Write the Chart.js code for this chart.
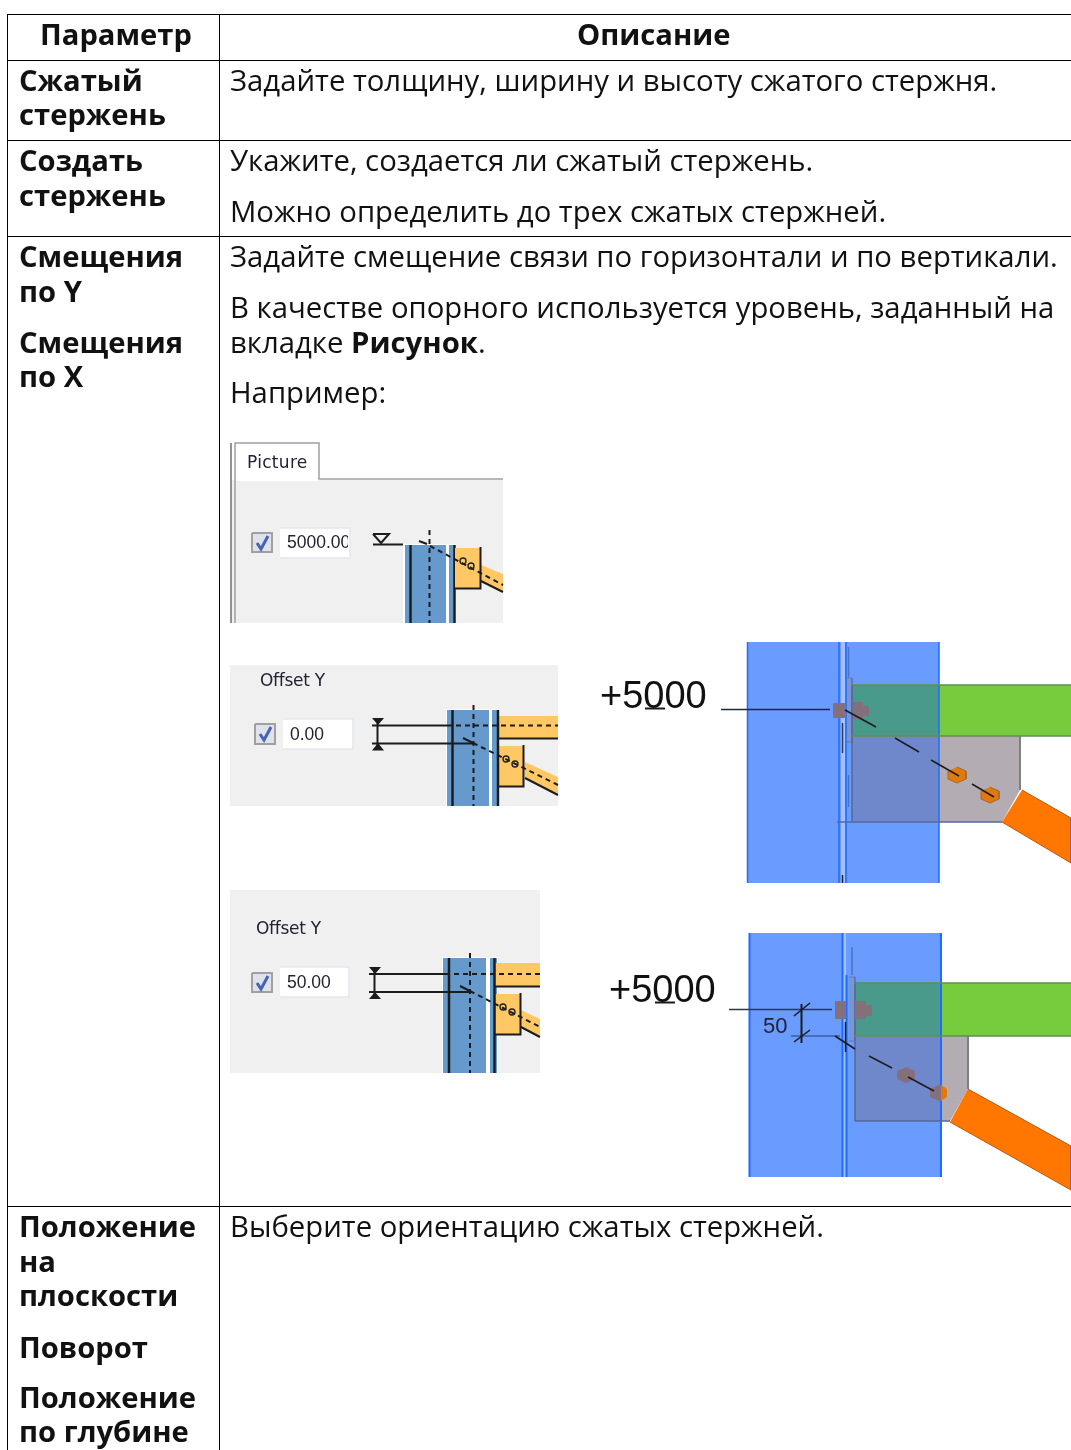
<!DOCTYPE html>
<html lang="ru">
<head>
<meta charset="utf-8">
<title>Параметры</title>
<script src="https://cdn.jsdelivr.net/npm/chart.js@4"></script>
<style>
  html, body { margin: 0; padding: 0; background: #fff; }
  #page { position: relative; width: 1071px; height: 1450px; overflow: hidden; font-family: "Open Sans", sans-serif; color: #111; }
  #sheet { position: absolute; left: 0; top: 0; }
  .t, .b, .h, .u, .d, .n { position: absolute; white-space: nowrap; line-height: 34px; }
  .t { font-size: 29.3px; margin-top: -1px; }
  .b, .h { font-size: 29.2px; font-weight: 700; margin-top: -1px; }
  .u { font-family: "DejaVu Sans", sans-serif; font-size: 17px; line-height: 20px; color: #223; filter: blur(.3px); }
  .d { font-family: "Liberation Sans", sans-serif; font-size: 17.5px; line-height: 20px; color: #223; filter: blur(.3px); overflow: hidden; }
  .n { font-family: "Liberation Sans", sans-serif; font-size: 38px; line-height: 40px; color: #111; }
</style>
</head>
<body>
<div id="page">
  <canvas id="sheet" width="1071" height="1450"></canvas>

  <div class="h" style="left:40px;top:18px">Параметр</div>
  <div class="h" style="left:577px;top:18px">Описание</div>

  <div class="b" style="left:19px;top:64px">Сжатый</div>
  <div class="b" style="left:19px;top:98px">стержень</div>
  <div class="t" style="left:230px;top:64px">Задайте толщину, ширину и высоту сжатого стержня.</div>

  <div class="b" style="left:19px;top:144px">Создать</div>
  <div class="b" style="left:19px;top:179px">стержень</div>
  <div class="t" style="left:230px;top:144px">Укажите, создается ли сжатый стержень.</div>
  <div class="t" style="left:230px;top:195px">Можно определить до трех сжатых стержней.</div>

  <div class="b" style="left:19px;top:240px">Смещения</div>
  <div class="b" style="left:19px;top:275px">по Y</div>
  <div class="b" style="left:19px;top:326px">Смещения</div>
  <div class="b" style="left:19px;top:360px">по X</div>
  <div class="t" style="left:230px;top:240px">Задайте смещение связи по горизонтали и по вертикали.</div>
  <div class="t" style="left:230px;top:291px">В качестве опорного используется уровень, заданный на</div>
  <div class="t" style="left:230px;top:326px">вкладке <b>Рисунок</b>.</div>
  <div class="t" style="left:230px;top:376px">Например:</div>

  <div class="u" style="left:247px;top:452px;letter-spacing:.3px">Picture</div>
  <div class="d" style="left:287px;top:532px;width:61px">5000.00</div>
  <div class="u" style="left:260px;top:670px;letter-spacing:-.3px">Offset Y</div>
  <div class="d" style="left:290px;top:724px">0.00</div>
  <div class="u" style="left:256px;top:918px;letter-spacing:-.3px">Offset Y</div>
  <div class="d" style="left:287px;top:972px">50.00</div>

  <div class="n" style="left:600px;top:675px">+5000</div>
  <div class="n" style="left:609px;top:969px">+5000</div>
  <div class="n" style="left:763px;top:1006px;font-size:22px;color:#223">50</div>

  <div class="b" style="left:19px;top:1210px">Положение</div>
  <div class="b" style="left:19px;top:1245px">на</div>
  <div class="b" style="left:19px;top:1279px">плоскости</div>
  <div class="b" style="left:19px;top:1331px">Поворот</div>
  <div class="b" style="left:19px;top:1381px">Положение</div>
  <div class="b" style="left:19px;top:1415px">по глубине</div>
  <div class="t" style="left:230px;top:1210px">Выберите ориентацию сжатых стержней.</div>
</div>

<script>
// table rules
const tableVerticals = [7.5, 219.5];
const tableHorizontals = [14.5, 60.5, 140.5, 236.5, 1206.5];

// first dialog ("Picture" tab)
const tabPanel = [[231, 480], [503, 480], [503, 623], [231, 623]];
const tabFace = [[235, 443], [319, 443], [319, 481], [235, 481]];
const tabOutline = [[235, 623], [235, 443], [319, 443], [319, 479], [503, 479]];
const tabLeftEdge = [[231, 443], [231, 623]];
const box1 = [[252, 533], [272, 533], [272, 552], [252, 552], [252, 533]];
const tick1 = [[257, 543], [261, 549], [268, 536]];
const field1 = [[280, 528], [350, 528], [350, 558], [280, 558]];
const levelMark = [[373, 534], [389, 534], [381, 543], [373, 534]];
const levelLine = [[373, 544.5], [403, 544.5]];
const gap1 = [[403, 544], [456, 544], [456, 623], [403, 623]];
const column1 = [[405, 545], [446, 545], [446, 623], [405, 623]];
const band1 = [[449, 545], [455, 545], [455, 623], [449, 623]];
const web1a = [[410.5, 545], [410.5, 623]];
const web1b = [[454.5, 545], [454.5, 623]];
const centre1 = [[429.5, 530], [429.5, 623]];
const gusset1 = [[455, 548], [480, 548], [480, 588], [455, 588]];
const gussetEdge1 = [[480.5, 547], [480.5, 588.5], [454, 588.5]];
const brace1 = [[481, 565], [503, 574], [503, 592], [481, 581]];
const braceEdge1 = [[481, 581], [503, 592]];
const axis1a = [[419, 541], [427, 544]];
const axis1b = [[430, 546], [503, 585]];
const holes1 = [[463, 561], [471, 566]];

// second dialog (Offset Y 0.00)
const panel2 = [[230, 665], [558, 665], [558, 806], [230, 806]];
const box2 = [[255, 724], [275, 724], [275, 744], [255, 744], [255, 724]];
const tick2 = [[260, 734], [264, 740], [271, 727]];
const field2 = [[283, 719], [353, 719], [353, 749], [283, 749]];
const gap2 = [[446, 709], [500, 709], [500, 806], [446, 806]];
const column2 = [[447, 710], [489, 710], [489, 806], [447, 806]];
const band2 = [[492, 710], [499, 710], [499, 806], [492, 806]];
const web2a = [[452.5, 710], [452.5, 806]];
const web2b = [[498, 710], [498, 806]];
const centre2 = [[473.5, 705], [473.5, 806]];
const flange2 = [[499, 716], [558, 716], [558, 738], [499, 738]];
const flangeEdge2 = [[499, 738.5], [558, 738.5]];
const flangeAxis2 = [[447, 725.5], [558, 725.5]];
const dimTop2 = [[372, 725.5], [447, 725.5]];
const dimBottom2 = [[372, 743.5], [473, 743.5]];
const dimStem2 = [[377.5, 720], [377.5, 750]];
const arrowTop2 = [[372, 718], [384, 718], [378, 725]];
const arrowBottom2 = [[372, 750.5], [384, 750.5], [378, 743]];
const gusset2 = [[499, 746], [523, 746], [523, 786], [499, 786]];
const gussetEdge2 = [[523.5, 745], [523.5, 786.5], [498, 786.5]];
const brace2 = [[525, 762], [558, 777], [558, 794], [525, 778]];
const braceEdge2 = [[525, 778], [558, 795]];
const axis2a = [[463, 738], [473, 743]];
const axis2b = [[473, 743], [558, 785]];
const holes2 = [[506, 759], [515, 764]];

// third dialog (Offset Y 50.00)
const panel3 = [[230, 890], [540, 890], [540, 1073], [230, 1073]];
const box3 = [[252, 973], [272, 973], [272, 992], [252, 992], [252, 973]];
const tick3 = [[257, 983], [261, 989], [268, 976]];
const field3 = [[280, 967], [349, 967], [349, 997], [280, 997]];
const gap3 = [[442, 957], [498, 957], [498, 1073], [442, 1073]];
const column3 = [[443, 958], [486, 958], [486, 1073], [443, 1073]];
const band3 = [[490, 958], [497, 958], [497, 1073], [490, 1073]];
const web3a = [[449, 958], [449, 1073]];
const web3b = [[494.5, 958], [494.5, 1073]];
const centre3 = [[470, 953], [470, 1073]];
const flange3 = [[495, 963], [540, 963], [540, 986], [495, 986]];
const flangeEdge3 = [[495, 986.5], [540, 986.5]];
const flangeAxis3 = [[445, 974], [540, 974]];
const dimTop3 = [[369, 974], [445, 974]];
const dimBottom3 = [[369, 992], [470, 992]];
const dimStem3 = [[374.5, 967], [374.5, 998]];
const arrowTop3 = [[369, 967], [381, 967], [375, 974]];
const arrowBottom3 = [[369, 999], [381, 999], [375, 992]];
const gusset3 = [[495, 994], [520, 994], [520, 1034], [495, 1034]];
const gussetEdge3 = [[520.5, 993], [520.5, 1034.5], [494, 1034.5]];
const brace3 = [[521, 1010], [540, 1019], [540, 1036], [521, 1027]];
const braceEdge3 = [[521, 1027], [540, 1037]];
const axis3a = [[460, 986], [470, 991]];
const axis3b = [[470, 991], [540, 1027]];
const holes3 = [[503, 1007], [512, 1012]];

// upper model view
const slab1 = [[747, 642], [939, 642], [939, 883], [747, 883]];
const strip1 = [[841, 642], [845, 642], [845, 883], [841, 883]];
const greenBar1 = [[939, 685], [1071, 685], [1071, 736], [939, 736]];
const tealBar1 = [[852, 685], [939, 685], [939, 736], [852, 736]];
const plateGrey1 = [[939, 736], [1020, 736], [1020, 790], [1002, 822], [939, 822]];
const plateBlue1 = [[852, 736], [939, 736], [939, 822], [852, 822]];
const capPlate1 = [[846, 678], [852, 678], [852, 742], [846, 742]];
const orange1 = [[1022, 790], [1071, 818], [1071, 863], [1002, 822]];
const slabEdges1 = [[747.5, 642], [747.5, 883]];
const slabEdges2 = [[939, 642], [939, 883]];
const slabEdges3 = [[839, 642], [839, 883]];
const slabEdges4 = [[846, 642], [846, 883]];
const plateOutline1 = [[1020, 736], [1020, 790]];
const plateBase1 = [[837, 822], [1002, 822]];
const plateSide1 = [[852, 685], [852, 822]];
const greenTop1 = [[852, 685], [1071, 685]];
const greenBottom1 = [[852, 736], [1071, 736]];
const boltA1 = [[833, 703], [846, 703], [846, 718], [833, 718]];
const boltB1 = [[853, 702], [863, 702], [863, 719], [853, 719]];
const boltC1 = [[863, 706], [869, 706], [869, 716], [863, 716]];
const leader1 = [[721, 709.5], [830, 709.5]];
const mark1 = [[645, 708.5], [665, 708.5]];
const hex1a = [[957, 767], [966, 771], [966, 779], [957, 783], [948, 779], [948, 771]];
const hex1b = [[990, 787], [999, 791], [999, 799], [990, 803], [981, 799], [981, 791]];
const dash1a = [[845, 710], [876, 727]];
const dash1b = [[895, 738], [919, 752]];
const dash1c = [[931, 760], [959, 776]];
const dash1d = [[972, 784], [994, 797]];
const inner1a = [[842.5, 723], [842.5, 753]];
const inner1b = [[842.5, 875], [842.5, 883]];
const inner1c = [[848.5, 647], [848.5, 677]];
const inner1d = [[848.5, 775], [848.5, 807]];

// lower model view
const slab2 = [[749, 933], [941, 933], [941, 1177], [749, 1177]];
const strip2 = [[843, 933], [846, 933], [846, 1177], [843, 1177]];
const greenBar2 = [[941, 983], [1071, 983], [1071, 1036], [941, 1036]];
const tealBar2 = [[855, 983], [941, 983], [941, 1036], [855, 1036]];
const plateGrey2 = [[941, 1036], [968, 1036], [968, 1089], [950, 1121], [941, 1121]];
const plateBlue2 = [[855, 1036], [941, 1036], [941, 1121], [855, 1121]];
const capPlate2 = [[849, 977], [855, 977], [855, 1041], [849, 1041]];
const orange2 = [[968, 1089], [1071, 1146], [1071, 1190], [950, 1122]];
const slabEdges5 = [[749.5, 933], [749.5, 1177]];
const slabEdges6 = [[941, 933], [941, 1177]];
const slabEdges7 = [[842.5, 933], [842.5, 1177]];
const slabEdges8 = [[846.5, 975], [846.5, 1177]];
const plateOutline2 = [[968, 1036], [968, 1089]];
const plateBase2 = [[855, 1121], [950, 1121]];
const plateSide2 = [[855, 983], [855, 1121]];
const greenTop2 = [[855, 983], [1071, 983]];
const greenBottom2 = [[855, 1036], [1071, 1036]];
const boltA2 = [[835, 1001], [846, 1001], [846, 1019], [835, 1019]];
const boltB2 = [[855, 1001], [866, 1001], [866, 1019], [855, 1019]];
const boltC2 = [[866, 1005], [872, 1005], [872, 1016], [866, 1016]];
const leader2 = [[729, 1009.5], [832, 1009.5]];
const leader2b = [[791, 1036], [840, 1036]];
const mark2 = [[655, 1002.5], [675, 1002.5]];
const dimStem4 = [[801.5, 1004], [801.5, 1043]];
const dimTick4a = [[794, 1016], [810, 1003]];
const dimTick4b = [[794, 1042], [810, 1030]];
const hex2a = [[906, 1067], [915, 1071], [915, 1079], [906, 1083], [897, 1079], [897, 1071]];
const hex2b = [[939, 1085], [941, 1085], [941, 1101], [939, 1101], [930, 1097], [930, 1089]];
const hex2c = [[941, 1085], [947, 1089], [947, 1097], [941, 1101]];
const dash2a = [[835, 1036], [855, 1049]];
const dash2b = [[869, 1056], [892, 1068]];
const dash2c = [[908, 1077], [934, 1091]];
const inner2a = [[845.5, 1022], [845.5, 1052]];
const inner2b = [[852, 947], [852, 975]];

const datasets = [];

function shape(points, fill, stroke, width, dash) {
  datasets.push({
    data: points.map(([x, y]) => ({ x, y })),
    showLine: true,
    fill: fill ? 'shape' : false,
    backgroundColor: fill || 'transparent',
    borderColor: stroke || 'transparent',
    borderWidth: stroke ? (width || 1) : 0,
    borderDash: dash || [],
    pointRadius: 0,
    tension: 0
  });
}

function dots(points) {
  datasets.push({
    data: points.map(([x, y]) => ({ x, y })),
    showLine: false,
    pointRadius: 3,
    pointBorderWidth: 1.4,
    pointBorderColor: '#222',
    pointBackgroundColor: 'transparent'
  });
}

const panelGrey = '#f0f0f0', steel = '#6699cc', amber = '#ffc864', ink = '#1c1c1c';
const slabBlue = '#6a9bff', edgeBlue = '#1f6bff', teal = '#4a9a8c', periwinkle = '#6f88cc';
const grass = '#76cc3c', plate = '#b3acb3', orange = '#ff7700', boltBrown = '#83707a';
const fieldEdge = '#e4e6ee', DASH = [5, 4];

tableVerticals.forEach(x => shape([[x, 14], [x, 1450]], null, '#000', 1));
tableHorizontals.forEach(y => shape([[7, y], [1071, y]], null, '#000', 1));

// "Picture" dialog
shape(tabPanel, panelGrey);
shape(tabFace, '#ffffff');
shape(tabOutline, null, '#a0a0a0', 1.5);
shape(tabLeftEdge, null, '#707070', 1.5);
shape(box1, '#dfe2ea', '#a0a0a0', 2);
shape(tick1, null, '#4664b4', 3);
shape(field1, '#ffffff', fieldEdge, 1.5);
shape(levelMark, panelGrey, ink, 2);
shape(levelLine, null, ink, 2);
shape(gap1, '#ffffff');
shape(column1, steel);
shape(band1, steel);
shape(web1a, null, ink, 2.5);
shape(web1b, null, ink, 2.5);
shape(gusset1, amber);
shape(brace1, amber);
shape(gussetEdge1, null, ink, 2);
shape(braceEdge1, null, ink, 2);
shape(centre1, null, ink, 2, DASH);
shape(axis1a, null, ink, 2);
shape(axis1b, null, ink, 2, DASH);
dots(holes1);

// Offset Y 0.00
shape(panel2, panelGrey);
shape(box2, '#dfe2ea', '#a0a0a0', 2);
shape(tick2, null, '#4664b4', 3);
shape(field2, '#ffffff', fieldEdge, 1.5);
shape(gap2, '#ffffff');
shape(column2, steel);
shape(band2, steel);
shape(flange2, amber);
shape(gusset2, amber);
shape(brace2, amber);
shape(web2a, null, ink, 2.5);
shape(web2b, null, ink, 2.5);
shape(flangeEdge2, null, ink, 2);
shape(gussetEdge2, null, ink, 2);
shape(braceEdge2, null, ink, 2);
shape(flangeAxis2, null, ink, 2, DASH);
shape(centre2, null, ink, 2, DASH);
shape(dimTop2, null, ink, 2);
shape(dimBottom2, null, ink, 2);
shape(dimStem2, null, ink, 2);
shape(arrowTop2, ink);
shape(arrowBottom2, ink);
shape(axis2a, null, ink, 2);
shape(axis2b, null, ink, 2, DASH);
dots(holes2);

// Offset Y 50.00
shape(panel3, panelGrey);
shape(box3, '#dfe2ea', '#a0a0a0', 2);
shape(tick3, null, '#4664b4', 3);
shape(field3, '#ffffff', fieldEdge, 1.5);
shape(gap3, '#ffffff');
shape(column3, steel);
shape(band3, steel);
shape(flange3, amber);
shape(gusset3, amber);
shape(brace3, amber);
shape(web3a, null, ink, 2.5);
shape(web3b, null, ink, 2.5);
shape(flangeEdge3, null, ink, 2);
shape(gussetEdge3, null, ink, 2);
shape(braceEdge3, null, ink, 2);
shape(flangeAxis3, null, ink, 2, DASH);
shape(centre3, null, ink, 2, DASH);
shape(dimTop3, null, ink, 2);
shape(dimBottom3, null, ink, 2);
shape(dimStem3, null, ink, 2);
shape(arrowTop3, ink);
shape(arrowBottom3, ink);
shape(axis3a, null, ink, 2);
shape(axis3b, null, ink, 2, DASH);
dots(holes3);

// upper model view
shape(slab1, slabBlue);
shape(strip1, '#a3c0ff');
shape(greenBar1, grass);
shape(tealBar1, teal);
shape(plateGrey1, plate);
shape(plateBlue1, periwinkle);
shape(capPlate1, '#7a95d0', '#5f78b0', 1);
shape(orange1, orange, '#b85a10', 1);
[slabEdges1, slabEdges2, slabEdges3, slabEdges4].forEach(e => shape(e, null, edgeBlue, 1.5));
shape(inner1a, null, '#333a55', 1.5);
shape(inner1b, null, '#222', 1.5);
shape(inner1c, null, '#4a72c0', 1.5);
shape(inner1d, null, '#4a72c0', 1.5);
shape(plateOutline1, null, '#808080', 2);
shape(plateBase1, null, '#55689a', 1.5);
shape(plateSide1, null, '#55689a', 1.5);
shape(greenTop1, null, '#5f8f50', 1.5);
shape(greenBottom1, null, '#5f8f50', 1.5);
shape(boltA1, boltBrown);
shape(boltB1, boltBrown);
shape(boltC1, boltBrown);
shape(hex1a, '#e07a10', '#a8682a', 1);
shape(hex1b, '#e07a10', '#a8682a', 1);
shape(leader1, null, '#1c2a3a', 1.5);
shape(mark1, null, ink, 2);
[dash1a, dash1b, dash1c, dash1d].forEach(d => shape(d, null, ink, 1.5));

// lower model view
shape(slab2, slabBlue);
shape(strip2, '#a3c0ff');
shape(greenBar2, grass);
shape(tealBar2, teal);
shape(plateGrey2, plate);
shape(plateBlue2, periwinkle);
shape(capPlate2, '#7a95d0', '#5f78b0', 1);
shape(orange2, orange, '#b85a10', 1);
[slabEdges5, slabEdges6, slabEdges7, slabEdges8].forEach(e => shape(e, null, edgeBlue, 2));
shape(inner2a, null, ink, 1.5);
shape(inner2b, null, '#4a72c0', 1.5);
shape(plateOutline2, null, '#808080', 2);
shape(plateBase2, null, '#55689a', 1.5);
shape(plateSide2, null, '#55689a', 1.5);
shape(greenTop2, null, '#5f8f50', 1.5);
shape(greenBottom2, null, '#5f8f50', 1.5);
shape(boltA2, boltBrown);
shape(boltB2, boltBrown);
shape(boltC2, boltBrown);
shape(hex2a, boltBrown);
shape(hex2b, boltBrown);
shape(hex2c, '#e07a10');
shape(leader2, null, '#2a3a4a', 1.5);
shape(leader2b, null, '#3f5f9f', 1.5);
shape(mark2, null, ink, 2);
shape(dimStem4, null, ink, 2);
shape(dimTick4a, null, ink, 1.5);
shape(dimTick4b, null, ink, 1.5);
[dash2a, dash2b, dash2c].forEach(d => shape(d, null, ink, 1.5));

// Chart.js paints the first dataset last, so flip the painter's order
new Chart(document.getElementById('sheet').getContext('2d'), {
  type: 'scatter',
  data: { datasets: datasets.reverse() },
  options: {
    responsive: false,
    animation: false,
    layout: { padding: 0, autoPadding: false },
    plugins: { legend: { display: false }, tooltip: { enabled: false } },
    scales: {
      x: { type: 'linear', min: 0, max: 1071, display: false },
      y: { type: 'linear', min: 0, max: 1450, reverse: true, display: false }
    }
  }
});
</script>
</body>
</html>
